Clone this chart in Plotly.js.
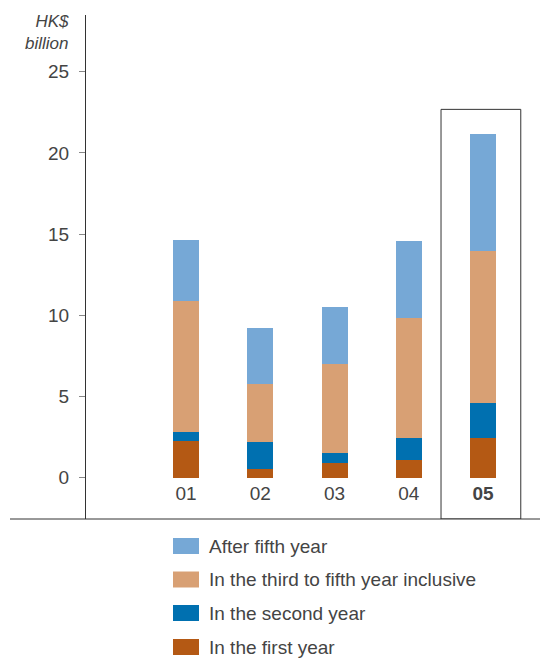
<!DOCTYPE html>
<html>
<head>
<meta charset="utf-8">
<script src="https://cdn.plot.ly/plotly-3.0.1.min.js"></script>
<style>html,body{margin:0;padding:0;background:#fff;}#chart{width:540px;height:658px;}</style>
</head>
<body>
<div id="chart"></div>
<script>
// ---- data ----
const categories = ["01", "02", "03", "04", "05"];
const tickLabels = ["01", "02", "03", "04", "<b>05</b>"];
const firstYear   = [2.26, 0.54, 0.88, 1.11, 2.44];
const secondYear  = [0.55, 1.66, 0.64, 1.33, 2.16];
const thirdToFifth= [8.07, 3.59, 5.48, 7.39, 9.36];
const afterFifth  = [3.76, 3.43, 3.51, 4.75, 7.20];
const seriesNames = ["In the first year", "In the second year", "In the third to fifth year inclusive", "After fifth year"];
const seriesColors = ["#B45914", "#0070B0", "#D8A074", "#76A8D6"];
const yTicks = [0, 5, 10, 15, 20, 25];

const seriesValues = [firstYear, secondYear, thirdToFifth, afterFifth];

// pixel helpers for layout placement (plot area: x 86..540, y 15..519)
const L = 86, R = 540, T = 15, B = 519;
const px = p => (p - L) / (R - L);
const py = p => (B - p) / (B - T);

const traces = seriesValues.map((vals, i) => ({
  type: 'bar',
  x: categories,
  y: vals,
  name: seriesNames[i],
  marker: {color: seriesColors[i], line: {width: 0}},
  width: 0.35,
  showlegend: false,
  hoverinfo: 'skip'
}));

const font = {family: 'Liberation Sans, Arial, sans-serif', color: '#444'};

const shapes = [
  // bottom baseline extending to the left
  {type: 'line', xref: 'paper', yref: 'paper', x0: px(10), x1: 1, y0: 0, y1: 0,
   line: {color: '#333', width: 1}},
  // highlight box around latest year
  {type: 'rect', xref: 'x', yref: 'y', x0: 3.434, x1: 4.508, y0: -2.543, y1: 22.68,
   line: {color: '#333', width: 1}, fillcolor: 'rgba(0,0,0,0)'}
];
const annotations = [
  {xref: 'paper', yref: 'paper', x: px(71), y: py(33), xanchor: 'right', yanchor: 'middle',
   align: 'right', showarrow: false, text: '<i>HK$<br>billion</i>',
   font: Object.assign({}, font, {size: 17})}
];

// custom legend (top to bottom: reverse order of stacking)
const legendRows = [546, 579.5, 613, 647];
for (let k = 0; k < 4; k++) {
  const i = 3 - k;
  const yc = legendRows[k];
  shapes.push({type: 'rect', xref: 'paper', yref: 'paper',
    x0: px(173), x1: px(199), y0: py(yc + 8), y1: py(yc - 8),
    line: {width: 0}, fillcolor: seriesColors[i]});
  annotations.push({xref: 'paper', yref: 'paper', x: px(207), y: py(yc),
    xanchor: 'left', yanchor: 'middle', showarrow: false, text: seriesNames[i],
    font: Object.assign({}, font, {size: 19})});
}

const layout = {
  width: 540, height: 658,
  margin: {l: L, r: 540 - R, t: T, b: 658 - B, pad: 0},
  paper_bgcolor: '#fff', plot_bgcolor: '#fff',
  barmode: 'stack',
  showlegend: false,
  font: font,
  xaxis: {
    type: 'category',
    categoryorder: 'array', categoryarray: categories,
    tickvals: categories, ticktext: tickLabels,
    range: [-1.347, 4.767],
    showline: false, showgrid: false, zeroline: false, ticks: '',
    anchor: 'free', position: py(479.5),
    tickfont: Object.assign({}, font, {size: 19}),
    fixedrange: true
  },
  yaxis: {
    range: [-2.543, 28.49],
    tickvals: yTicks, ticktext: yTicks.map(String),
    showline: true, linecolor: '#333', linewidth: 1,
    ticks: 'outside', ticklen: 6, tickcolor: '#888', tickwidth: 1,
    ticklabelstandoff: 6,
    showgrid: false, zeroline: false,
    tickfont: Object.assign({}, font, {size: 19}),
    fixedrange: true
  },
  shapes: shapes,
  annotations: annotations
};

Plotly.newPlot('chart', traces, layout, {displayModeBar: false, staticPlot: true});
</script>
</body>
</html>
